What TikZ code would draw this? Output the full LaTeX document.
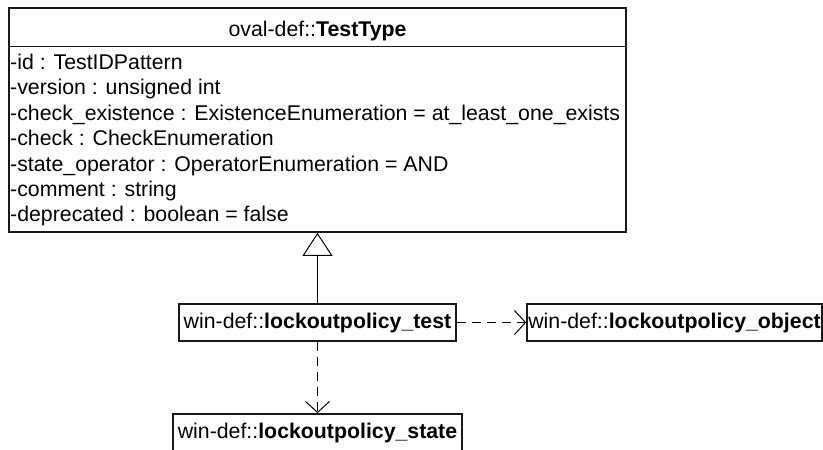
\documentclass[tikz,border=0pt]{standalone}
\usepackage{fontspec}
\setmainfont{Liberation Sans}
\usetikzlibrary{arrows.meta}
\begin{document}
\begin{tikzpicture}[x=1pt,y=-1pt,
  umlbox/.style={draw=black!90, line width=1.7pt, rectangle, inner sep=0pt, font=\fontsize{21.3}{25}\selectfont},
  attr/.style={anchor=base west, inner sep=0pt, font=\fontsize{21.3}{25}\selectfont},
  conn/.style={line width=1pt, black},
  dep/.style={conn, dash pattern=on 9pt off 6pt, -{Straight Barb[length=11pt,width=24pt,line width=1pt]}},
  gen/.style={conn, -{Triangle[open,length=23pt,width=30pt,line width=1pt]}}]
\useasboundingbox (0,0) rectangle (823,450);
% TestType class
\node[umlbox, minimum width=617pt, minimum height=224pt] (tt) at (317.5,120) {};
\node[anchor=base, inner sep=0pt, font=\fontsize{21.3}{25}\selectfont] (tth) at (317.5,36.5) {oval-def::\textbf{TestType}};
\draw[line width=1.7pt, black!90] (tt.west |- 0,46.5) -- (tt.east |- 0,46.5);
\node[attr] (a1) at (10,69.5) {-id : TestIDPattern};
\node[attr] (a2) at (10,94.9) {-version : unsigned int};
\node[attr] (a3) at (10,120.3) {-check\_existence : ExistenceEnumeration = at\_least\_one\_exists};
\node[attr] (a4) at (10,145.7) {-check : CheckEnumeration};
\node[attr] (a5) at (10,171.1) {-state\_operator : OperatorEnumeration = AND};
\node[attr] (a6) at (10,196.5) {-comment : string};
\node[attr] (a7) at (10,221.9) {-deprecated : boolean = false};
% other classes
\node[umlbox, minimum width=277pt, minimum height=37pt] (test) at (317.5,322.5) {win-def::\textbf{lockoutpolicy\_test}};
\node[umlbox, minimum width=295pt, minimum height=37pt] (obj) at (674.5,322.5) {win-def::\textbf{lockoutpolicy\_object}};
\node[umlbox, minimum width=289pt, minimum height=37pt] (state) at (317.5,432.5) {win-def::\textbf{lockoutpolicy\_state}};
% connectors
\draw[gen] (test.north) -- (tt.south);
\draw[dep] (test.east) -- (obj.west);
\draw[dep] (test.south) -- (state.north);
\end{tikzpicture}
\end{document}
